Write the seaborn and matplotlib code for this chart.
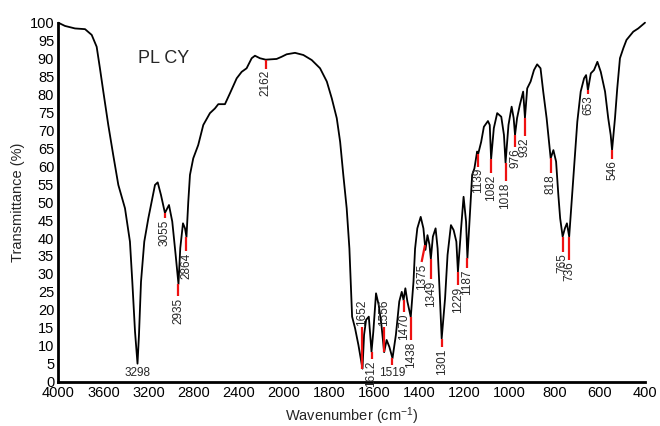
import numpy as np
import pandas as pd
import matplotlib
matplotlib.use("Agg")
import matplotlib.pyplot as plt
import seaborn as sns

# ---------------- data ----------------
wavenumber = [4000, 3941, 3852, 3763, 3704, 3660, 3631, 3601, 3557, 3513, 3468, 3409,
              3365, 3344, 3320, 3298, 3285, 3267, 3238, 3202, 3173, 3143, 3119, 3090,
              3055, 3019, 2990, 2960, 2935, 2919, 2895, 2877, 2864, 2848, 2833, 2804,
              2760, 2715, 2656, 2612, 2582, 2523, 2479, 2419, 2375, 2331, 2286, 2257,
              2213, 2162, 2109, 2065, 2021, 1988, 1951, 1914, 1877, 1840, 1810, 1788,
              1766, 1751, 1737, 1722, 1710, 1703, 1698, 1685, 1670, 1652, 1645, 1636,
              1624, 1612, 1604, 1592, 1580, 1568, 1556, 1545, 1533, 1519, 1504, 1489,
              1478, 1470, 1462, 1453, 1438, 1426, 1419, 1409, 1394, 1382, 1373, 1364,
              1355, 1349, 1340, 1328, 1319, 1310, 1301, 1286, 1275, 1260, 1248, 1236,
              1229, 1215, 1204, 1193, 1187, 1173, 1166, 1156, 1144, 1139, 1126, 1114,
              1096, 1088, 1082, 1070, 1055, 1037, 1025, 1018, 1005, 991, 982, 976,
              967, 955, 940, 932, 922, 907, 892, 878, 863, 851, 836, 818,
              806, 794, 784, 776, 765, 755, 746, 736, 725, 710, 700, 685,
              670, 661, 653, 640, 626, 611, 596, 577, 563, 552, 546, 533,
              523, 511, 496, 482, 452, 430, 400]
transmittance = [100.0, 99.1, 98.4, 98.2, 96.6, 93.3, 87.3, 80.8, 71.5, 63.1, 54.8, 48.3,
                 39.0, 27.8, 13.9, 5.0, 13.0, 27.8, 39.0, 45.5, 50.1, 54.8, 55.5, 52.0,
                 47.0, 49.2, 44.6, 35.3, 27.2, 37.2, 44.1, 42.7, 40.3, 50.1, 57.6, 62.2,
                 65.9, 71.5, 74.8, 76.1, 77.3, 77.3, 80.3, 84.5, 86.3, 87.3, 90.1, 90.8,
                 90.1, 89.7, 89.8, 89.9, 90.5, 91.2, 91.6, 91.0, 89.6, 87.3, 83.6, 78.9,
                 73.4, 66.8, 57.6, 48.3, 37.1, 26.0, 18.1, 14.9, 10.2, 3.6, 13.0, 17.2,
                 18.1, 8.3, 13.9, 24.6, 21.3, 15.8, 8.2, 11.6, 9.7, 6.5, 13.0, 22.3,
                 25.0, 22.7, 26.0, 22.3, 18.0, 27.8, 37.0, 42.7, 45.9, 42.7, 36.7, 40.8,
                 38.1, 34.2, 40.4, 42.7, 37.1, 25.0, 12.0, 23.2, 35.3, 43.6, 42.2, 39.0,
                 30.6, 42.7, 51.5, 44.6, 34.4, 50.1, 57.6, 59.4, 64.1, 63.5, 66.8, 71.0,
                 72.6, 71.5, 62.0, 70.6, 74.8, 73.8, 68.7, 61.0, 71.5, 76.6, 73.4, 68.7,
                 73.4, 77.0, 80.8, 73.5, 81.7, 83.6, 86.8, 88.4, 87.3, 80.8, 73.4, 62.2,
                 64.5, 61.3, 52.0, 45.5, 40.4, 42.7, 44.1, 40.4, 50.1, 63.1, 72.4, 80.8,
                 84.5, 85.4, 81.2, 85.9, 86.8, 89.1, 86.3, 80.8, 73.4, 68.7, 64.5, 73.4,
                 81.7, 90.1, 92.9, 95.2, 97.5, 98.4, 100.0]

peak_wn = [3055, 2935, 2864, 2162, 1652, 1612, 1556, 1519, 1470, 1438, 1375, 1349,
           1301, 1229, 1187, 1139, 1082, 1018, 976, 932, 818, 765, 736, 653, 546]
peak_labels = [str(p) for p in peak_wn]

x_ticks = [4000, 3600, 3200, 2800, 2400, 2000, 1800, 1600, 1400, 1200, 1000, 800, 600, 400]
y_ticks = list(range(0, 101, 5))

sample_name = "PL CY"

# ---------------- layout (marker lengths / label placement) ----------------
# (marker length in %T, direction: -1 below / +1 above, text rotation, x shift of label end)
marker_layout = {
    3055: (1.5, -1, 90, 0), 2935: (3.4, -1, 90, 0), 2864: (4.0, -1, 90, 0),
    2162: (2.5, -1, 90, 0), 1652: (11.6, 1, 90, 0), 1612: (2.0, -1, 90, 0),
    1556: (7.0, 1, 90, 0), 1519: (2.0, -1, 0, 0), 1470: (3.3, -1, 90, 0),
    1438: (6.4, -1, 90, 0), 1375: (4.7, -1, 90, 15), 1349: (5.6, -1, 90, 0),
    1301: (2.4, -1, 90, 0), 1229: (3.7, -1, 90, 0), 1187: (2.8, -1, 90, 0),
    1139: (3.6, -1, 90, 0), 1082: (4.0, -1, 90, 0), 1018: (5.2, -1, 90, 0),
    976: (3.3, -1, 90, 0), 932: (5.2, -1, 90, 0), 818: (4.0, -1, 90, 0),
    765: (4.2, -1, 90, 0), 736: (6.5, -1, 90, 0), 653: (1.1, -1, 90, 0),
    546: (2.4, -1, 90, 0),
}

# ---------------- style ----------------
sns.set_style("white")
plt.rcParams["font.family"] = ["Liberation Sans", "DejaVu Sans"]
plt.rcParams["mathtext.fontset"] = "custom"
plt.rcParams["mathtext.rm"] = "Liberation Sans"
plt.rcParams["mathtext.it"] = "Liberation Sans:italic"
plt.rcParams["mathtext.bf"] = "Liberation Sans:bold"

df = pd.DataFrame({"Wavenumber": wavenumber, "Transmittance": transmittance})

fig = plt.figure(figsize=(6.6, 4.26), dpi=100)
ax = fig.add_axes([58.3 / 660, 44.4 / 426, (645 - 58.3) / 660, (381.6 - 22.7) / 426])


def fwd(w):
    w = np.asarray(w, dtype=float)
    return np.where(w > 2000, 2000 + (w - 2000) / 2.0, w)


def inv(u):
    u = np.asarray(u, dtype=float)
    return np.where(u > 2000, 2 * u - 2000, u)


ax.set_xscale("function", functions=(fwd, inv))

sns.lineplot(data=df, x="Wavenumber", y="Transmittance", sort=False, ax=ax,
             color="black", linewidth=1.3, clip_on=False)

ax.set_xlim(4000, 400)
ax.set_ylim(0, 100)
ax.set_xticks(x_ticks)
ax.set_xticklabels([str(t) for t in x_ticks])
ax.set_yticks(y_ticks)
ax.set_yticklabels([str(t) for t in y_ticks])
ax.minorticks_off()
ax.tick_params(axis="both", direction="in", length=3, width=1.2, labelsize=10.5,
               colors="black", pad=3)

for s in ["top", "right"]:
    ax.spines[s].set_visible(False)
for s in ["left", "bottom"]:
    ax.spines[s].set_linewidth(2)
    ax.spines[s].set_color("black")

ax.set_xlabel("Wavenumber (cm$^{-1}$)", fontsize=10.5, labelpad=4)
ax.set_ylabel("Transmittance (%)", fontsize=10.5, labelpad=3)

ax.text(3063, 89.9, sample_name, fontsize=13, ha="center", va="center")

# peak markers
for wn, lab in zip(peak_wn, peak_labels):
    t0 = float(np.interp(wn, wavenumber[::-1], transmittance[::-1]))
    length, direction, rot, xshift = marker_layout[wn]
    t1 = t0 + direction * length
    x1 = wn + xshift
    ax.plot([wn, x1], [t0, t1], color="#ee1111", linewidth=1.6, clip_on=False,
            solid_capstyle="butt")
    if rot == 0:
        ax.text(x1, t1 - 0.4, lab, fontsize=8.5, ha="center", va="top", clip_on=False)
    elif direction < 0:
        ax.text(x1, t1 - 0.4, lab, fontsize=8.5, ha="center", va="top",
                rotation=90, rotation_mode="anchor" if False else "default", clip_on=False)
    else:
        ax.text(x1, t1 + 0.4, lab, fontsize=8.5, ha="center", va="bottom",
                rotation=90, clip_on=False)

# 3298 label (horizontal, no marker)
t_min = float(np.interp(3298, wavenumber[::-1], transmittance[::-1]))
ax.text(3298, t_min - 1.0, "3298", fontsize=8.5, ha="center", va="top")

fig.savefig("out.png", dpi=100, facecolor="white")
